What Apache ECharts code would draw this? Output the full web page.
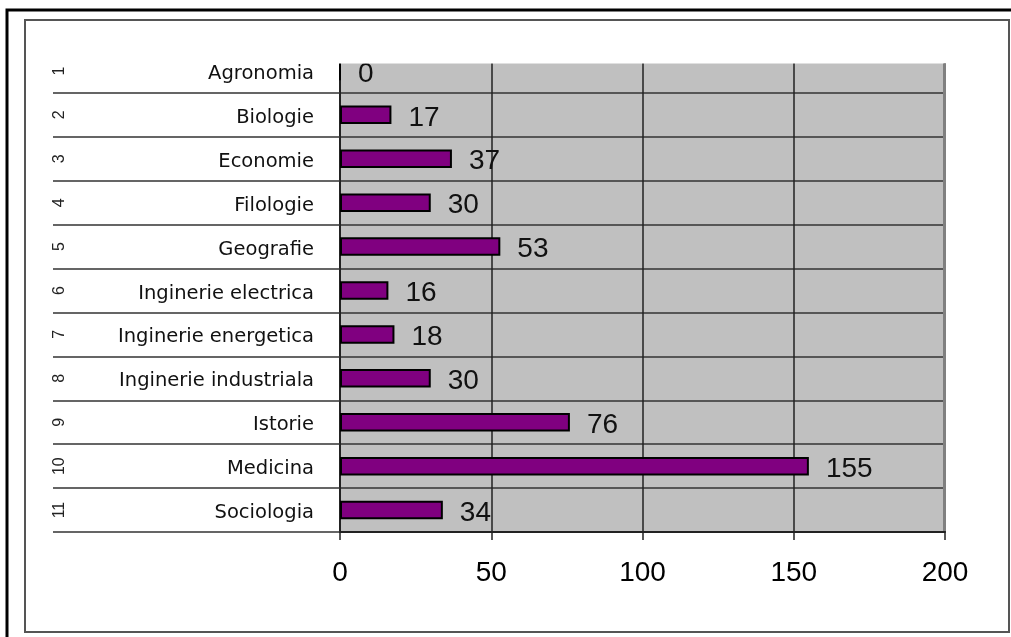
<!DOCTYPE html>
<html>
<head>
<meta charset="utf-8">
<script src="https://cdn.jsdelivr.net/npm/echarts@6/dist/echarts.min.js"></script>
<style>
html,body{margin:0;padding:0;background:#fff;}
#c{width:1011px;height:637px;}
</style>
</head>
<body>
<div id="c"></div>
<script>
const categories = ['Agronomia','Biologie','Economie','Filologie','Geografie','Inginerie electrica','Inginerie energetica','Inginerie industriala','Istorie','Medicina','Sociologia'];
const ranks = ['1','2','3','4','5','6','7','8','9','10','11'];
const values = [0,17,37,30,53,16,18,30,76,155,34];
const xTicks = {min:0, max:200, interval:50};

const chart = echarts.init(document.getElementById('c'), null, {renderer:'canvas'});
const option = {
  animation:false,
  backgroundColor:'#fff',
  grid:{left:340, right:66, top:49, bottom:105, show:true, backgroundColor:'#c0c0c0', borderWidth:0},
  xAxis:{
    type:'value', min:xTicks.min, max:xTicks.max, interval:xTicks.interval,
    axisLine:{show:true, lineStyle:{color:'#222', width:2}},
    axisTick:{show:true, length:8, lineStyle:{color:'#222', width:1.5}},
    splitLine:{show:true, lineStyle:{color:'#222', width:1.5}},
    axisLabel:{fontFamily:'Liberation Sans', fontSize:28, color:'#000', margin:27}
  },
  yAxis:[{
    type:'category', inverse:true, data:categories,
    axisLine:{show:true, lineStyle:{color:'#222', width:2}},
    axisTick:{show:true, length:287, lineStyle:{color:'#333', width:1.5}},
    splitLine:{show:true, lineStyle:{color:'#333', width:1.5}},
    axisLabel:{fontFamily:'DejaVu Sans', fontSize:19.5, color:'#111', margin:26, verticalAlign:'top', lineHeight:6}
  },{
    type:'category', inverse:true, data:ranks, position:'left', offset:270,
    axisLine:{show:false}, axisTick:{show:false}, splitLine:{show:false},
    axisLabel:{fontFamily:'Liberation Sans', fontSize:16, color:'#222', rotate:90, margin:2}
  }],
  series:[{
    type:'bar', data:values, yAxisIndex:0, barWidth:18.5,
    itemStyle:{color:'#800080', borderColor:'#000', borderWidth:2},
    label:{show:true, position:'right', distance:17, offset:[0,3], fontFamily:'Liberation Sans', fontSize:28, color:'#111'}
  }],
  graphic:[
    {type:'rect', z:100, shape:{x:26, y:46, width:922, height:17.5}, style:{fill:'#fff'}},
    {type:'line', z:100, shape:{x1:944.5, y1:63.5, x2:944.5, y2:531}, style:{stroke:'#808080', lineWidth:3}},
    {type:'rect', z:100, shape:{x:25, y:20, width:984, height:612}, style:{fill:null, stroke:'#555', lineWidth:2}},
    {type:'rect', z:100, shape:{x:7, y:10, width:1100, height:700}, style:{fill:null, stroke:'#000', lineWidth:3}}
  ]
};
chart.setOption(option);
</script>
</body>
</html>
